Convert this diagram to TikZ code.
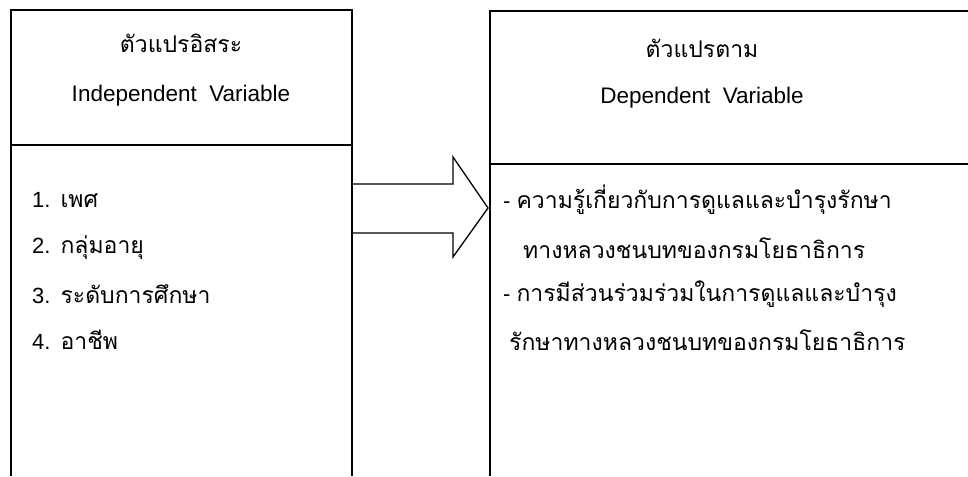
\documentclass[tikz,border=0pt]{standalone}
\usepackage{fontspec}
\setmainfont{Liberation Sans}
\newfontfamily\thaifnt[Script=Thai]{Loma}
\newcommand{\thtxt}[1]{{\fontsize{23}{25}\selectfont\thaifnt #1}}
\begin{document}
\begin{tikzpicture}[x=1pt,y=-1pt,
  boxline/.style={line width=1.3pt,black},
  head/.style={font=\fontsize{22.5}{25}\selectfont,anchor=center,inner sep=0pt},
  item/.style={font=\fontsize{22}{25}\selectfont,anchor=west,inner sep=0pt}]
\useasboundingbox (0,0) rectangle (968,476);
% left box
\coordinate (LBL) at (11,476);
\coordinate (LTL) at (11,10);
\coordinate (LTR) at (352,10);
\coordinate (LBR) at (352,476);
\coordinate (LDL) at (11,145);
\coordinate (LDR) at (352,145);
\draw[boxline] (LBL) -- (LTL) -- (LTR) -- (LBR);
\draw[boxline] (LDL) -- (LDR);
% right box
\coordinate (RBL) at (490,476);
\coordinate (RTL) at (490,11);
\coordinate (RTR) at (968,11);
\coordinate (RDL) at (490,164);
\coordinate (RDR) at (968,164);
\draw[boxline] (RBL) -- (RTL) -- (RTR);
\draw[boxline] (RDL) -- (RDR);
% arrow
\coordinate (A1) at (352,184);
\coordinate (A2) at (453,184);
\coordinate (A3) at (453,157);
\coordinate (A4) at (488,208);
\coordinate (A5) at (453,257);
\coordinate (A6) at (453,233);
\coordinate (A7) at (352,233);
\draw[boxline,line join=miter] (A1) -- (A2) -- (A3) -- (A4) -- (A5) -- (A6) -- (A7);
% left headers
\node[head] (lh1) at (181,43) {\thtxt{ตัวแปรอิสระ}};
\node[head] (lh2) at (181,96) {Independent\ \ Variable};
% left items
\node[item] (l1) at (32,200) {1.\hspace{10pt}\thtxt{เพศ}};
\node[item] (l2) at (32,248) {2.\hspace{10pt}\thtxt{กลุ่มอายุ}};
\node[item] (l3) at (32,294) {3.\hspace{10pt}\thtxt{ระดับการศึกษา}};
\node[item] (l4) at (32,340) {4.\hspace{10pt}\thtxt{อาชีพ}};
% right headers
\node[head] (rh1) at (702,48) {\thtxt{ตัวแปรตาม}};
\node[head] (rh2) at (702,98) {Dependent\ \ Variable};
% right items
\node[item] (r1) at (503,200) {-\hspace{6pt}\thtxt{ความรู้เกี่ยวกับการดูแลและบำรุงรักษา}};
\node[item] (r2) at (523,248) {\thtxt{ทางหลวงชนบทของกรมโยธาธิการ}};
\node[item] (r3) at (503,294) {-\hspace{6pt}\thtxt{การมีส่วนร่วมร่วมในการดูแลและบำรุง}};
\node[item] (r4) at (509,340) {\thtxt{รักษาทางหลวงชนบทของกรมโยธาธิการ}};
\end{tikzpicture}
\end{document}
